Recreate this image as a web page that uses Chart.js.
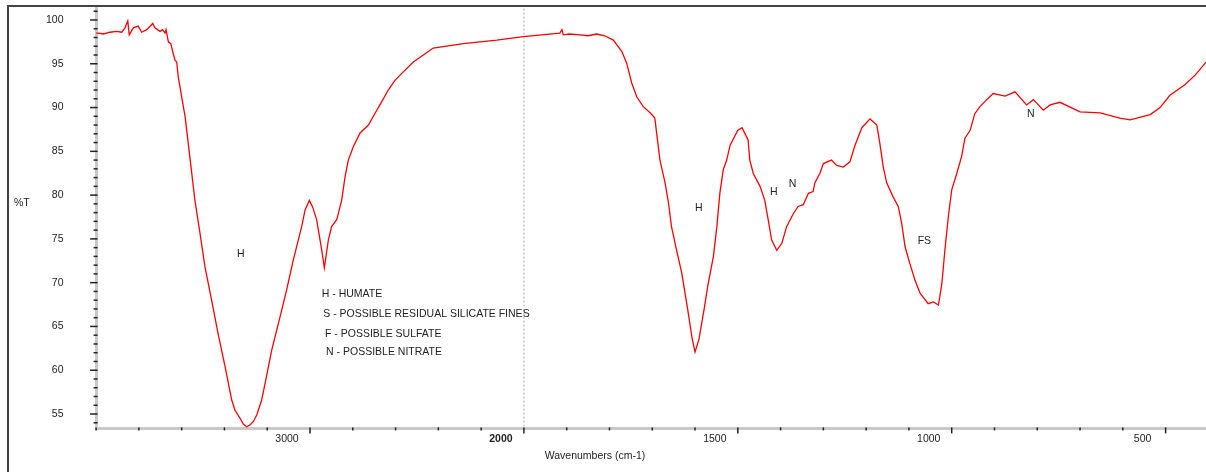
<!DOCTYPE html>
<html>
<head>
<meta charset="utf-8">
<script src="https://cdn.jsdelivr.net/npm/chart.js@4.4.1/dist/chart.umd.min.js"></script>
<style>
html,body{margin:0;padding:0;background:#fff;overflow:hidden;width:1206px;height:472px}
#wrap{position:relative;width:1212px;height:472px}
canvas{display:block}
</style>
</head>
<body>
<div id="wrap"><canvas id="c" width="1212" height="472"></canvas></div>
<script>
// ---- data ----
const wavenumbers = [
  4000,3990,3966,3935,3904,3880,3865,3852,3845,3826,3803,3787,3763,3735,3725,3701,3689,3678,3673,3662,
  3651,3642,3631,3623,3616,3608,3595,3584,3561,3538,3514,3491,3460,3430,3397,3366,3351,3327,3312,3296,
  3281,3265,3249,3226,3210,
  3179,3140,3109,3078,3039,3023,3003,2987,2969,2945,2933,2914,2899,2875,2852,2836,2821,2798,2766,2727,2704,2673,
  2634,2603,2571,2517,2470,2424,2283,2127,2003,1916,1911,1908,1893,1869,1850,1830,1811,1791,1771,1760,
  1748,1736,1721,1705,1694,1682,1670,1662,1655,1643,1631,1617,1607,1600,1591,1579,1570,1557,1549,1542,
  1534,1526,1518,1500,1490,1476,1472,1464,1448,1437,1429,1421,1409,1397,1386,1370,1359,1347,1335,1324,
  1320,1308,1300,1281,1269,1253,1238,1226,1210,1191,1175,1168,1160,1152,1137,1125,1117,1109,1098,1086,
  1074,1055,1043,1031,1023,1016,1008,1000,988,977,969,957,946,934,918,903,875,852,825,809,
  786,770,747,700,653,607,583,536,513,490,455,431,400
];
const transmittance = [
  98.5,98.5,98.4,98.6,98.7,98.6,99.1,99.9,98.3,99.1,99.3,98.6,98.9,99.6,99.1,98.7,98.9,98.5,98.9,97.5,
  97.3,96.4,95.4,95.2,93.5,92.4,90.5,89.0,84.2,79.4,75.6,71.8,68.0,64.2,60.4,56.6,55.46,54.51,53.86,53.55,
  53.74,54.12,54.89,56.6,58.5,
  62.3,66.1,69.2,72.6,76.4,78.3,79.4,78.6,77.2,73.7,71.7,74.9,76.4,77.2,79.4,82.1,84.0,85.5,87.1,88.0,89.0,90.3,
  92.0,93.1,93.9,95.2,96.0,96.8,97.3,97.7,98.1,98.5,98.9,98.3,98.4,98.3,98.2,98.4,98.2,97.7,96.4,95.1,
  92.8,91.2,90.1,89.4,88.8,84.0,81.4,79.1,76.4,73.7,71.1,66.9,63.7,62.1,63.5,66.9,69.7,73.0,76.4,80.2,
  82.9,84.0,85.7,87.4,87.7,86.3,84.0,82.5,81.0,79.4,77.2,74.9,73.7,74.5,76.4,77.9,78.7,78.9,80.2,80.4,
  81.4,82.5,83.6,84.0,83.4,83.2,83.8,85.7,87.7,88.7,88.0,85.9,83.2,81.4,79.8,78.7,76.8,74.1,72.2,70.3,
  68.8,67.6,67.8,67.45,69.9,73.7,77.5,80.6,82.5,84.4,86.5,87.4,89.3,90.1,90.9,91.6,91.3,91.8,90.3,90.9,
  89.7,90.3,90.6,89.5,89.4,88.8,88.6,89.2,90.0,91.4,92.6,93.7,95.5
];

// axis tick labels (wavenumber) and %T ticks
const xTickLabels = [3000, 2000, 1500, 1000, 500];
const yTickLabels = [55, 60, 65, 70, 75, 80, 85, 90, 95, 100];

// peak annotations and legend lines
const noteTexts = ["H", "H - HUMATE", "S - POSSIBLE RESIDUAL SILICATE FINES", "F - POSSIBLE SULFATE",
                   "N - POSSIBLE NITRATE", "H", "H", "N", "FS", "N"];
const noteWavenumbers = [3323, 2945, 2938, 2930, 2925, 1591, 1416, 1372, 1064, 815];
const notePercent = [73.27, 68.67, 66.39, 64.10, 62.12, 78.56, 80.35, 81.23, 74.79, 89.23];
const noteAlign = ["center", "left", "left", "left", "left", "center", "center", "center", "center", "center"];

// ---- axis with a 2:1 scale change at 2000 cm-1 ----
function toAxis(w) { return w <= 2000 ? w : 2000 + (w - 2000) / 2; }
function fromAxis(u) { return u <= 2000 ? u : 2000 + (u - 2000) * 2; }

const FONT = "'Liberation Sans', Arial, sans-serif";
const points = wavenumbers.map((w, i) => ({ x: toAxis(w), y: transmittance[i] }));

const decor = {
  id: 'decor',
  beforeDatasetsDraw(chart) {
    const { ctx, chartArea, scales } = chart;
    const px = scales.x.getPixelForValue(toAxis(2000));
    ctx.save();
    ctx.strokeStyle = '#c8c8c8';
    ctx.lineWidth = 1.5;
    ctx.setLineDash([2, 2]);
    ctx.beginPath();
    ctx.moveTo(px, chartArea.top);
    ctx.lineTo(px, chartArea.bottom);
    ctx.stroke();
    ctx.restore();
  },
  afterDraw(chart) {
    const { ctx, chartArea, scales } = chart;
    const xs = scales.x, ys = scales.y;
    ctx.save();
    ctx.strokeStyle = '#222';
    ctx.lineWidth = 1.5;
    // x ticks
    const xb = chartArea.bottom;
    for (let w = 400; w <= 4000; w += (w < 2000 ? 100 : 200)) {
      const major = xTickLabels.includes(w);
      const p = xs.getPixelForValue(toAxis(w));
      if (p < chartArea.left - 1 || p > chartArea.right + 1) continue;
      ctx.beginPath();
      ctx.moveTo(p, xb - 1.5);
      ctx.lineTo(p, xb + (major ? 4.5 : 1.5));
      ctx.stroke();
    }
    // y ticks
    const xl = chartArea.left;
    for (let v = 54; v <= 101; v++) {
      const major = v % 5 === 0;
      const p = ys.getPixelForValue(v);
      ctx.beginPath();
      ctx.moveTo(xl - (major ? 6 : 2.5), p);
      ctx.lineTo(xl + 1.5, p);
      ctx.stroke();
    }
    // annotations
    ctx.fillStyle = '#222';
    ctx.font = '10.5px ' + FONT;
    ctx.textBaseline = 'middle';
    noteTexts.forEach((t, i) => {
      ctx.textAlign = noteAlign[i];
      ctx.fillText(t, xs.getPixelForValue(toAxis(noteWavenumbers[i])), ys.getPixelForValue(notePercent[i]));
    });
    // axis titles
    ctx.textAlign = 'left';
    ctx.fillText('%T', 14, 203);
    ctx.textAlign = 'center';
    ctx.fillText('Wavenumbers (cm-1)', 595, 456);
    // page frame
    ctx.strokeStyle = '#444';
    ctx.lineWidth = 2;
    ctx.beginPath();
    ctx.moveTo(8, 472);
    ctx.lineTo(8, 6);
    ctx.lineTo(1212, 6);
    ctx.stroke();
    ctx.restore();
  }
};

new Chart(document.getElementById('c'), {
  type: 'line',
  data: {
    datasets: [{
      data: points,
      borderColor: '#ff0000',
      borderWidth: 1.3,
      pointRadius: 0,
      tension: 0,
      fill: false
    }]
  },
  options: {
    responsive: false,
    animation: false,
    events: [],
    layout: { padding: { left: 0, right: 3.6, top: 8.6, bottom: 0 } },
    plugins: { legend: { display: false }, tooltip: { enabled: false } },
    scales: {
      x: {
        type: 'linear',
        reverse: true,
        min: 400,
        max: 3000,
        afterBuildTicks: s => { s.ticks = xTickLabels.map(w => ({ value: toAxis(w) })); },
        afterFit: s => { s.height = 43.1; s.paddingLeft = 0; s.paddingRight = 0; },
        ticks: {
          autoSkip: false,
          maxRotation: 0,
          labelOffset: -23,
          padding: 4,
          color: '#222',
          callback: v => String(fromAxis(v)),
          font: c => ({ family: FONT, size: 10.5, weight: (c.tick && fromAxis(c.tick.value) === 2000) ? 'bold' : 'normal' })
        },
        grid: { display: false, drawTicks: false },
        border: { display: true, color: '#c8c8c8', width: 3 }
      },
      y: {
        type: 'linear',
        min: 53.3,
        max: 101.3,
        afterBuildTicks: s => { s.ticks = yTickLabels.map(v => ({ value: v })); },
        afterFit: s => { s.width = 96.1; s.paddingTop = 0; s.paddingBottom = 0; },
        ticks: {
          padding: 32.6,
          color: '#222',
          font: { family: FONT, size: 10.5 }
        },
        grid: { display: false, drawTicks: false },
        border: { display: true, color: '#c8c8c8', width: 3 }
      }
    }
  },
  plugins: [decor]
});
</script>
</body>
</html>
